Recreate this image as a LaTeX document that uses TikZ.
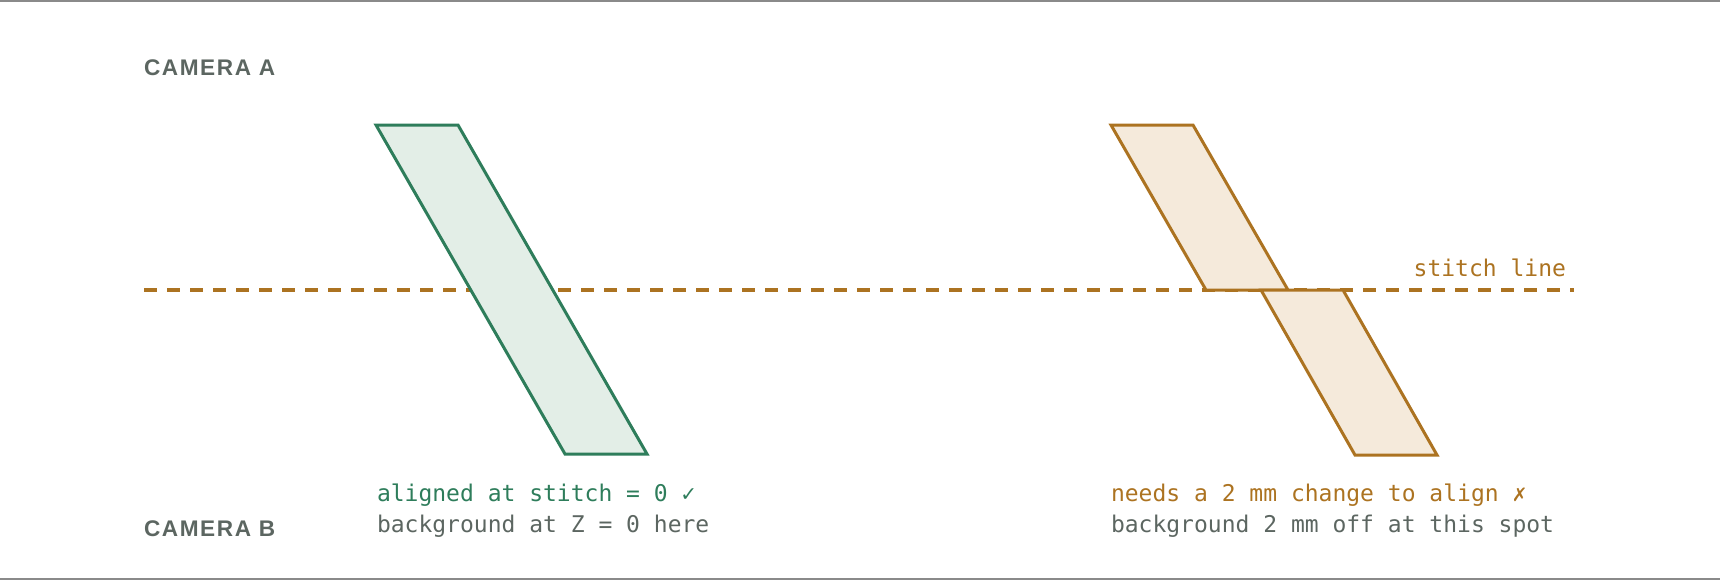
\documentclass[tikz,border=0pt]{standalone}
\usepackage{fontspec}
\setmainfont{Liberation Sans}
\newfontfamily\camfont[LetterSpace=7]{Liberation Sans}
\newfontfamily\notefont{DejaVu Sans Mono}
\definecolor{okgreen}{HTML}{2E7D5B}
\definecolor{okfill}{HTML}{E3EEE7}
\definecolor{offbrown}{HTML}{AC7321}
\definecolor{offfill}{HTML}{F5EADB}
\definecolor{notegray}{HTML}{5C6661}
\definecolor{framegray}{HTML}{8A8A8A}
\tikzstyle{camera label}=[anchor=base west,inner sep=0pt,outer sep=0pt,
    font=\camfont\bfseries\fontsize{11.3}{13}\selectfont,text=notegray]
\tikzstyle{note}=[anchor=base west,inner sep=0pt,outer sep=0pt,
    font=\notefont\fontsize{11.5}{13}\selectfont]
\tikzstyle{stitch}=[draw=offbrown,line width=2pt,dash pattern=on 6.5pt off 5pt]
\tikzstyle{slab ok}=[draw=okgreen,fill=okfill,line width=1.5pt,line join=miter]
\tikzstyle{slab off}=[draw=offbrown,fill=offfill,line width=1.5pt,line join=miter]
% slab: style, top left corner, bottom left corner
\newcommand{\slab}[3]{
    \draw[#1] (#2) -- ++(82,0) -- ($(#3)+(82,0)$) -- (#3) -- cycle;
}
\usetikzlibrary{calc}

\begin{document}
\begin{tikzpicture}[x=0.5pt,y=-0.5pt]
    \useasboundingbox (0,0) rectangle (1720,580);
    \draw[framegray,line width=0.8pt] (0,0.8) -- (1720,0.8);
    \draw[framegray,line width=0.8pt] (0,579) -- (1720,579);
    %
    \node[camera label] (camA) at (144,75) {CAMERA A};
    \node[camera label] (camB) at (144,536) {CAMERA B};
    %
    \coordinate (stitchL) at (144,290);
    \coordinate (stitchR) at (1574,290);
    \draw[stitch] (stitchL) -- (stitchR);
    \node[note,anchor=base east,text=offbrown] (stitchlbl) at (1566,276) {stitch line};
    %
    \coordinate (okTL) at (376,125);
    \coordinate (okBL) at (565,454);
    \slab{slab ok}{okTL}{okBL}
    %
    \coordinate (upTL) at (1111,125);
    \coordinate (upBL) at (1206,290);
    \coordinate (loTL) at (1261,290);
    \coordinate (loBL) at (1355,455);
    \slab{slab off}{upTL}{upBL}
    \slab{slab off}{loTL}{loBL}
    %
    \node[note,text=okgreen] (okA) at (377,501.5) {aligned at stitch = 0 ✓};
    \node[note,text=notegray] (okB) at (377,532) {background at Z = 0 here};
    \node[note,text=offbrown] (offA) at (1111,501.5) {needs a 2 mm change to align ✗};
    \node[note,text=notegray] (offB) at (1111,532) {background 2 mm off at this spot};
\end{tikzpicture}
\end{document}
